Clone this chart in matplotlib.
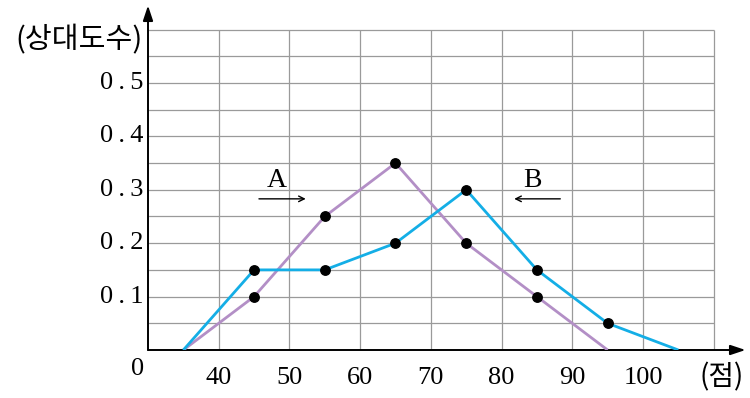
import matplotlib
matplotlib.use("Agg")
import matplotlib.pyplot as plt

# class marks (점) and relative frequencies (상대도수)
scores_a = [35, 45, 55, 65, 75, 85, 95]
freq_a = [0, 0.1, 0.25, 0.35, 0.2, 0.1, 0]
scores_b = [35, 45, 55, 65, 75, 85, 95, 105]
freq_b = [0, 0.15, 0.15, 0.2, 0.3, 0.15, 0.05, 0]

x_ticks = [40, 50, 60, 70, 80, 90, 100]
y_ticks = [0.1, 0.2, 0.3, 0.4, 0.5]
x_grid = [40, 50, 60, 70, 80, 90, 100, 110]
y_grid = [0.05 * i for i in range(1, 13)]

purple = "#b38fc6"
blue = "#14aee6"
serif = ["Liberation Serif", "DejaVu Serif"]
kfont = ["Noto Sans CJK KR", "DejaVu Sans"]

fig = plt.figure(figsize=(7.5, 3.98), dpi=100)
ax = fig.add_axes([148 / 750, 48 / 398, 597.5 / 750, 344.5 / 398])
ax.set_xlim(30, 114.5)
ax.set_ylim(0, 0.645)
ax.axis("off")

# grid
ax.vlines(x_grid, 0, 0.6, color="#9a9a9a", lw=0.9, zorder=1)
ax.hlines(y_grid, 30, 110, color="#9a9a9a", lw=0.9, zorder=1)

# axes with arrows
ax.annotate("", xy=(114.5, 0), xytext=(30, 0), annotation_clip=False,
            arrowprops=dict(arrowstyle="-|>,head_length=0.9,head_width=0.3", color="black", lw=1.4,
                            shrinkA=0, shrinkB=0))
ax.annotate("", xy=(30, 0.645), xytext=(30, 0), annotation_clip=False,
            arrowprops=dict(arrowstyle="-|>,head_length=0.9,head_width=0.3", color="black", lw=1.4,
                            shrinkA=0, shrinkB=0))

# polygons
ax.plot(scores_a, freq_a, color=purple, lw=2, zorder=3, solid_capstyle="butt")
ax.plot(scores_b, freq_b, color=blue, lw=2, zorder=3, solid_capstyle="butt")
ax.plot(scores_a[1:-1], freq_a[1:-1], "o", color="black", ms=6.8, zorder=4)
ax.plot(scores_b[1:-1], freq_b[1:-1], "o", color="black", ms=6.8, zorder=4)

# tick labels
for v in x_ticks:
    ax.text(v, -0.053, str(v), ha="center", va="center", fontsize=19, family=serif)
for v in y_ticks:
    ax.text(29.3, v, ("%.1f" % v).replace(".", "\u2009.\u2009"), ha="right", va="center",
            fontsize=19, family=serif)
ax.text(29.4, -0.035, "0", ha="right", va="center", fontsize=19, family=serif)

ax.text(29.3, 0.58, "(상대도수)", ha="right", va="center", fontsize=21, family=kfont)
ax.text(114.3, -0.052, "(점)", ha="right", va="center", fontsize=20, family=kfont)

# labels A, B
ax.text(48.2, 0.317, "A", ha="center", va="center", fontsize=20, family=serif)
ax.annotate("", xy=(52.7, 0.283), xytext=(45.3, 0.283),
            arrowprops=dict(arrowstyle="->", color="black", lw=1))
ax.text(84.3, 0.317, "B", ha="center", va="center", fontsize=20, family=serif)
ax.annotate("", xy=(81.4, 0.283), xytext=(88.7, 0.283),
            arrowprops=dict(arrowstyle="->", color="black", lw=1))

fig.savefig("out.png", dpi=100)
